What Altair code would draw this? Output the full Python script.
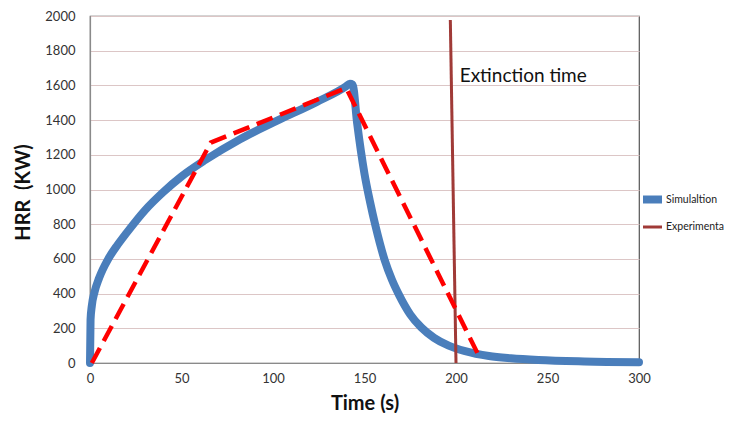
import altair as alt
import pandas as pd

# Simulation curve (blue)
sim_t = [0, 0.3, 1, 2.5, 5, 10, 15, 20, 30, 40, 50, 63, 82, 102, 124, 140, 142, 143.5,
         146, 150, 153, 156, 161, 165, 169, 175, 181, 188, 196, 205, 218, 230, 245, 270, 300]
sim_v = [0, 250, 330, 410, 490, 600, 680, 750, 880, 985, 1075, 1170, 1290, 1395, 1505, 1595, 1610, 1605,
         1380, 1090, 930, 790, 594, 480, 390, 280, 205, 145, 100, 68, 40, 27, 17, 9, 5]

# Experiment curve (red dashed)
exp_t = [1, 66, 140, 213]
exp_v = [0, 1270, 1585, 30]

# Extinction time line
ext_t = [196.9, 200.0]
ext_v = [1977, 0]

label_t = [202]
label_v = [1620]
label_text = ["Extinction time"]

series_names = ["Simulaltion", "Experimenta"]

sim_df = pd.DataFrame({"t": sim_t, "v": sim_v, "series": series_names[0]})
exp_df = pd.DataFrame({"t": exp_t, "v": exp_v})
ext_df = pd.DataFrame({"t": ext_t, "v": ext_v, "series": series_names[1]})
lab_df = pd.DataFrame({"t": label_t, "v": label_v, "label": label_text})

FONT = "Lato"

x_enc = alt.X("t:Q", scale=alt.Scale(domain=[0, 300], nice=False),
              axis=alt.Axis(values=[0, 50, 100, 150, 200, 250, 300], title="Time (s)",
                            grid=False, ticks=False, labelPadding=9, labelFlush=False,
                            labelOverlap=False, format="d",
                            titlePadding=8, titleFontSize=20, titleFontWeight="bold"))
y_enc = alt.Y("v:Q", scale=alt.Scale(domain=[0, 2000], nice=False),
              axis=alt.Axis(values=[0, 200, 400, 600, 800, 1000, 1200, 1400, 1600, 1800, 2000],
                            title="HRR\u00a0\u00a0(KW)",
                            grid=True, ticks=False, labelPadding=15, labelFlush=False,
                            labelOverlap=False, format="d",
                            titleFontSize=20, titleFontWeight="bold",
                            titleAngle=-90, titleX=-67, titleY=176,
                            titleBaseline="middle", titleAlign="center"))

legend_cfg = dict(title=None, orient="none", legendX=549, legendY=170,
                  symbolType="stroke", symbolSize=361,
                  labelFontSize=10.5, labelFont=FONT, labelColor="#222",
                  labelOffset=0, rowPadding=-6, padding=0)

color_enc = alt.Color("series:N",
                      scale=alt.Scale(domain=series_names, range=["#4a7ebb", "#a03a37"]),
                      legend=alt.Legend(**legend_cfg))
sw_enc = alt.StrokeWidth("series:N",
                         scale=alt.Scale(domain=series_names, range=[8, 3]),
                         legend=alt.Legend(**legend_cfg))

sim_line = alt.Chart(sim_df).mark_line(interpolate="monotone", strokeCap="round",
                                       strokeJoin="round").encode(
    x=x_enc, y=y_enc, color=color_enc, strokeWidth=sw_enc)

ext_line = alt.Chart(ext_df).mark_line().encode(
    x=x_enc, y=y_enc, color=color_enc, strokeWidth=sw_enc)

exp_line = alt.Chart(exp_df).mark_line(color="#ff0000", strokeWidth=4.5,
                                       strokeDash=[17, 8], strokeCap="butt").encode(
    x=x_enc, y=y_enc)

label = alt.Chart(lab_df).mark_text(align="left", baseline="alphabetic", fontSize=19,
                                    font=FONT, color="#111").encode(
    x=x_enc, y=y_enc, text="label:N")

chart = alt.layer(sim_line, ext_line, exp_line, label).properties(
    width=549, height=347,
    autosize=alt.AutoSizeParams(type="none"),
    padding={"left": 82, "top": 8, "right": 87, "bottom": 50},
).configure_view(
    stroke="#555555", strokeWidth=1.2
).configure_axis(
    labelFont=FONT, titleFont=FONT, labelFontSize=13, labelColor="#333333",
    titleColor="#111111", domainColor="#8a8a8a", domainWidth=1.2,
    gridColor="#dcc6c6", gridWidth=1
)

chart.save("out.html", embed_options={"renderer": "svg", "actions": False})
